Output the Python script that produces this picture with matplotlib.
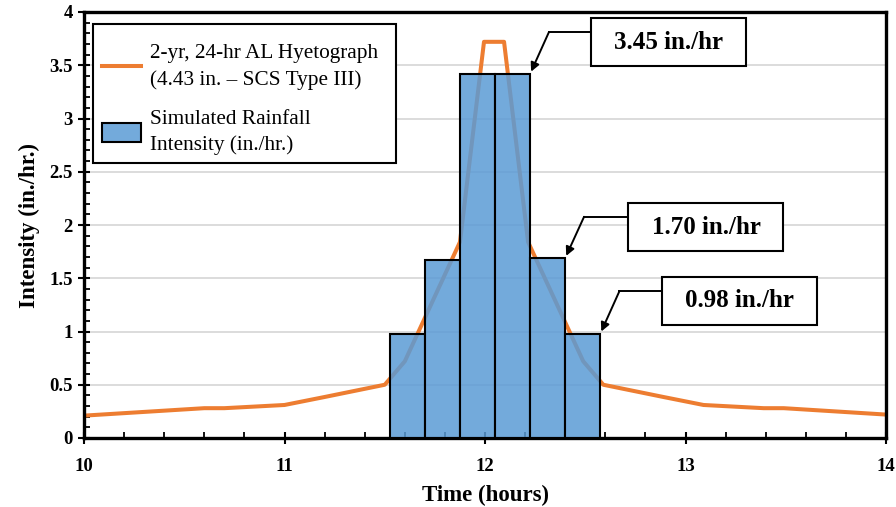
import matplotlib
matplotlib.use('Agg')
import matplotlib.pyplot as plt
from matplotlib.patches import Rectangle, Patch
from matplotlib.lines import Line2D
from matplotlib.ticker import MultipleLocator
from matplotlib.colors import to_rgba

# ---- data ----
hyeto_time = [10.0, 10.6, 10.7, 11.0, 11.2, 11.5, 11.6, 11.875, 11.995, 12.095,
              12.215, 12.49, 12.59, 12.89, 13.09, 13.39, 13.49, 14.0]
hyeto_intensity = [0.21, 0.28, 0.28, 0.31, 0.385, 0.50, 0.72, 1.84, 3.72, 3.72,
                   1.84, 0.72, 0.50, 0.385, 0.31, 0.28, 0.28, 0.22]

bar_left_edges = [11.525, 11.70, 11.875, 12.05, 12.225, 12.40]
bar_width = 0.175
bar_heights = [0.98, 1.67, 3.42, 3.42, 1.69, 0.98]

annot_labels = ['3.45 in./hr', '1.70 in./hr', '0.98 in./hr']
annot_bar_index = [3, 4, 5]

legend_labels = ['2-yr, 24-hr AL Hyetograph\n(4.43 in. \u2013 SCS Type III)',
                 'Simulated Rainfall\nIntensity (in./hr.)']
x_label = 'Time (hours)'
y_label = 'Intensity (in./hr.)'

# ---- layout for annotation boxes (data coords): box center x, center y, elbow y, elbow x
annot_layout = [
    (12.915, 3.715, 3.812, 12.319),
    (13.102, 1.981, 2.077, 12.494),
    (13.268, 1.287, 1.377, 12.670),
]
box_w, box_h = 0.773, 0.45

plt.rcParams['font.family'] = ['Liberation Serif', 'DejaVu Serif']

fig = plt.figure(figsize=(8.96, 5.07), dpi=100)
ax = fig.add_axes([84/896, 1-438/507, 802/896, 426/507])

orange = '#ED7D31'
blue = to_rgba('#5B9BD5', 0.85)

ax.plot(hyeto_time, hyeto_intensity, color=orange, lw=2.9, zorder=2,
        solid_joinstyle='round')
ax.bar(bar_left_edges, bar_heights, width=bar_width, align='edge',
       facecolor=blue, edgecolor='black', linewidth=1.5, zorder=3)

ax.set_xlim(10, 14)
ax.set_ylim(0, 4)
ax.xaxis.set_major_locator(MultipleLocator(1))
ax.xaxis.set_minor_locator(MultipleLocator(0.2))
ax.yaxis.set_major_locator(MultipleLocator(0.5))
ax.yaxis.set_minor_locator(MultipleLocator(0.1))
ax.yaxis.set_major_formatter(matplotlib.ticker.FuncFormatter(lambda v, p: f'{v:g}'))
ax.grid(axis='y', which='major', color='#D9D9D9', lw=1.3, zorder=0)
ax.set_axisbelow(True)

for s in ax.spines.values():
    s.set_linewidth(2.4)
    s.set_color('black')

ax.tick_params(axis='both', which='major', direction='inout', length=8, width=1.5,
               labelsize=13.5)
ax.tick_params(axis='x', which='major', pad=10.5)
ax.tick_params(axis='y', which='major', pad=4)
ax.tick_params(axis='both', which='minor', direction='in', length=4, width=1.3)
for lbl in ax.get_xticklabels() + ax.get_yticklabels():
    lbl.set_fontweight('bold')

ax.set_xlabel(x_label, fontsize=16.5, fontweight='bold', labelpad=7)
ax.set_ylabel(y_label, fontsize=16.5, fontweight='bold', labelpad=7)

# legend frame (drawn separately for independent padding)
ax.add_patch(Rectangle((0.01122, 0.6455), 0.389 - 0.01122, 0.9718 - 0.6455,
                       transform=ax.transAxes, facecolor='white',
                       edgecolor='black', lw=1.5, zorder=9))
handles = [Line2D([], [], color=orange, lw=2.9),
           Patch(facecolor=blue, edgecolor='black', linewidth=1.5)]
leg = ax.legend(handles, legend_labels, loc='upper left',
                bbox_to_anchor=(0.0224, 0.924), borderaxespad=0,
                fontsize=15.3, frameon=False, handlelength=1.85,
                handleheight=1.0, handletextpad=0.42, labelspacing=0.94,
                borderpad=0.0)
leg.set_zorder(10)
for t in leg.get_texts():
    t.set_linespacing(1.45)

# annotations
for lab, bi, (cx, cy, ey, ex) in zip(annot_labels, annot_bar_index, annot_layout):
    tip_x = bar_left_edges[bi] + bar_width + 0.005
    tip_y = bar_heights[bi] + 0.02
    ax.add_patch(Rectangle((cx - box_w/2, cy - box_h/2), box_w, box_h,
                           facecolor='white', edgecolor='black', lw=1.5,
                           zorder=6, clip_on=False))
    ax.text(cx, cy, lab, ha='center', va='center', fontsize=18,
            fontweight='bold', zorder=7)
    ax.plot([cx - box_w/2, ex], [ey, ey], color='black', lw=1.4, zorder=6,
            clip_on=False)
    ax.annotate('', xy=(tip_x, tip_y), xytext=(ex, ey),
                arrowprops=dict(arrowstyle='-|>', color='black', lw=1.4,
                                mutation_scale=13, shrinkA=0, shrinkB=0),
                zorder=6)

fig.savefig('out.png', dpi=100)
